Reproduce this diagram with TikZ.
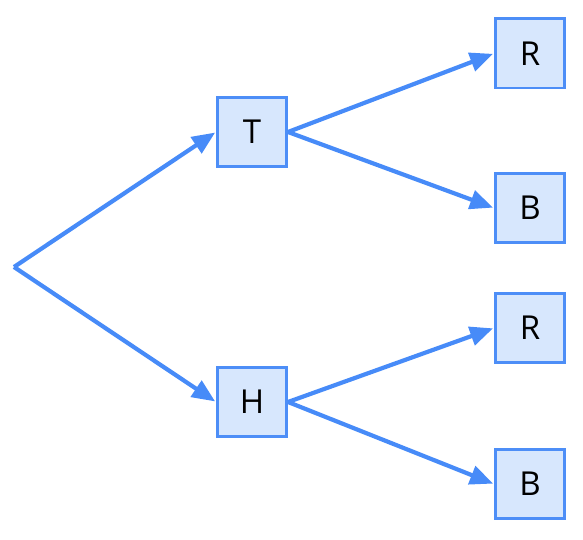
\documentclass[tikz,border=0pt]{standalone}
\usepackage{fontspec}
\setmainfont{Open Sans}
\usetikzlibrary{arrows.meta}
\definecolor{edgeblue}{HTML}{478BF8}
\definecolor{boxline}{HTML}{4D8EF7}
\definecolor{boxfill}{HTML}{D7E7FD}
\tikzset{
  leaf/.style={draw=boxline, fill=boxfill, line width=2.8pt, minimum size=69.2pt, inner sep=0pt, font=\fontsize{33}{36}\selectfont},
  arr/.style={draw=edgeblue, line width=4.2pt, -{Triangle[length=23pt,width=19pt]}, shorten >=1pt}
}
\begin{document}
\begin{tikzpicture}[x=1pt,y=1pt]
\useasboundingbox (0,0) rectangle (583,540);
\coordinate (s) at (14,273);
\node[leaf] (T) at (252,408) {T};
\node[leaf] (H) at (252,138) {H};
\node[leaf] (R1) at (530,486.5) {R};
\node[leaf] (B1) at (530,332) {B};
\node[leaf] (R2) at (530,212) {R};
\node[leaf] (B2) at (530,56) {B};
\draw[arr] (s) -- (T.west);
\draw[arr] (s) -- (H.west);
\draw[arr] (T.east) -- (R1.west);
\draw[arr] (T.east) -- (B1.west);
\draw[arr] (H.east) -- (R2.west);
\draw[arr] (H.east) -- (B2.west);
\end{tikzpicture}
\end{document}
